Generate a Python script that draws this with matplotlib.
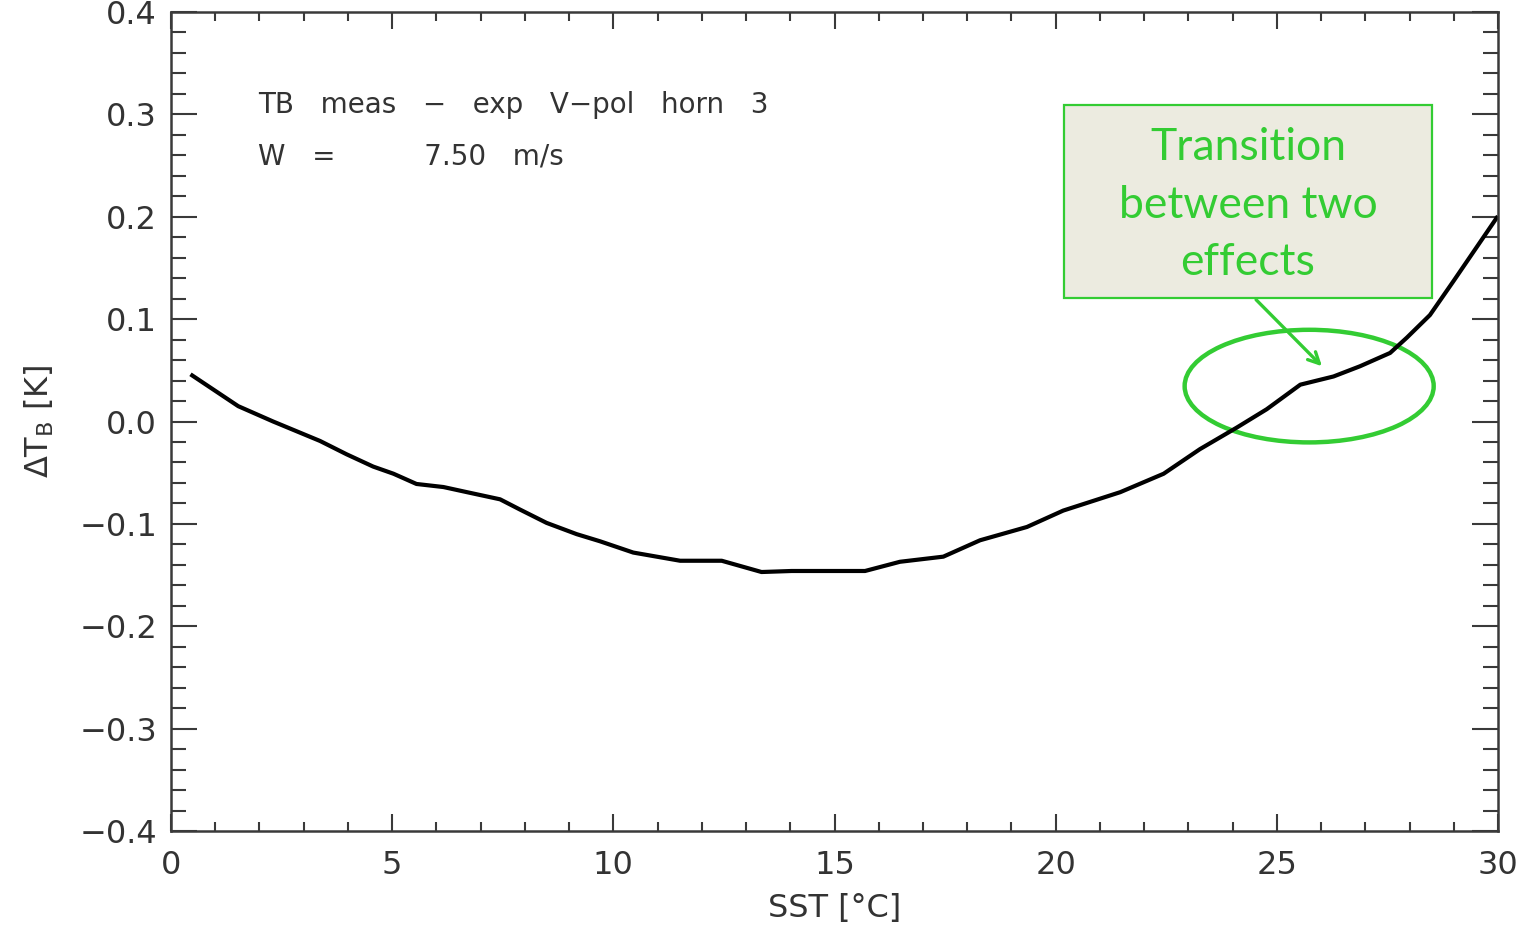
import matplotlib
matplotlib.use("Agg")
import matplotlib.pyplot as plt
from matplotlib.patches import Ellipse, Rectangle
from matplotlib.ticker import MultipleLocator

# SST (degC) and TB difference (K)
sst = [0.48, 1.52, 2.31, 3.37, 3.97, 4.57, 5.03, 5.55, 6.16, 6.69,
       7.44, 7.89, 8.49, 9.17, 9.70, 10.45, 11.51, 12.45, 13.35, 14.03,
       15.69, 16.48, 17.46, 18.29, 19.35, 20.17, 21.46, 22.44, 23.26, 24.09,
       24.77, 25.53, 26.28, 26.88, 27.56, 27.94, 28.46, 28.99, 29.97]
dtb = [0.045, 0.015, 0.0, -0.019, -0.032, -0.044, -0.051, -0.061, -0.064, -0.069,
       -0.076, -0.086, -0.099, -0.110, -0.117, -0.128, -0.136, -0.136, -0.147, -0.146,
       -0.146, -0.137, -0.132, -0.116, -0.103, -0.087, -0.069, -0.051, -0.027, -0.006,
       0.012, 0.036, 0.044, 0.054, 0.067, 0.082, 0.104, 0.137, 0.199]

xticks = [0, 5, 10, 15, 20, 25, 30]
yticks = [-0.4, -0.3, -0.2, -0.1, 0.0, 0.1, 0.2, 0.3, 0.4]

axcol = "#3a3a3a"
txtcol = "#333333"
green = "#33cc33"

fig = plt.figure(figsize=(15.28, 9.25), dpi=100)
ax = fig.add_axes([0.1119, 0.1016, 0.8685, 0.8854])

ax.plot(sst, dtb, color="black", lw=3)

ax.set_xlim(0, 30)
ax.set_ylim(-0.4, 0.4)
ax.set_xticks(xticks)
ax.set_yticks(yticks)
ax.xaxis.set_minor_locator(MultipleLocator(1))
ax.yaxis.set_minor_locator(MultipleLocator(0.02))
ax.set_xticklabels([str(t) for t in xticks])
ax.set_yticklabels(["%.1f" % t if t >= 0 else "\u2212%.1f" % -t for t in yticks])

ax.tick_params(axis="both", which="both", direction="in", top=True, right=True,
               color=axcol, width=1.5, labelcolor=txtcol, labelsize=23)
ax.tick_params(axis="y", which="major", length=19, pad=10)
ax.tick_params(axis="y", which="minor", length=10.5)
ax.tick_params(axis="x", which="major", length=12, pad=14)
ax.tick_params(axis="x", which="minor", length=6.5)
for s in ax.spines.values():
    s.set_color(axcol)
    s.set_linewidth(1.8)

ax.set_xlabel("SST [\u00b0C]", fontsize=23, color=txtcol, labelpad=8)
ax.set_ylabel(r"$\Delta$T$_\mathregular{B}$ [K]", fontsize=23, color=txtcol, labelpad=17)

ax.text(0.0655, 0.887, "TB   meas   \u2212   exp   V\u2212pol   horn   3", transform=ax.transAxes,
        fontsize=20, color=txtcol, va="center", ha="left")
ax.text(0.0655, 0.824, "W   =          7.50   m/s", transform=ax.transAxes,
        fontsize=20, color=txtcol, va="center", ha="left")

# annotation: box, arrow and ellipse
ax.add_patch(Rectangle((0.673, 0.6508), 0.277, 0.2356, transform=ax.transAxes,
                       facecolor="#ecebe0", edgecolor=green, lw=1.6, zorder=3))
ax.text(0.8116, 0.764, "Transition\nbetween two\neffects", transform=ax.transAxes,
        ha="center", va="center", fontsize=32, color=green, family="Lato",
        linespacing=1.5, zorder=4)
ax.annotate("", xy=(26.02, 0.054), xytext=(24.53, 0.119),
            arrowprops=dict(arrowstyle="->,head_length=0.8,head_width=0.4",
                            color=green, lw=2.4, shrinkA=0, shrinkB=0))
ax.add_patch(Ellipse((25.73, 0.0346), 5.63, 0.110, fill=False, edgecolor=green, lw=3.2))

fig.savefig("out.png", dpi=100)
